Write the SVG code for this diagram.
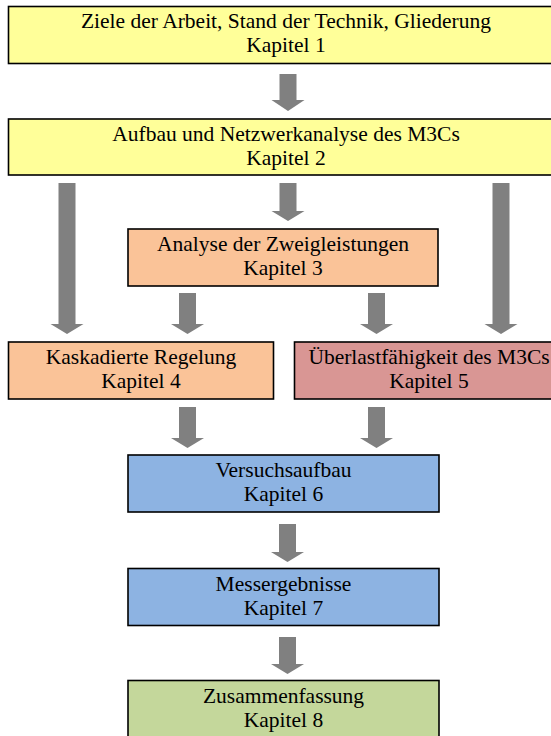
<svg xmlns="http://www.w3.org/2000/svg" width="551" height="736" viewBox="0 0 551 736">
  <style>
    .box { stroke: #000; stroke-width: 1.6; }
    .yellow { fill: #FFFF99; }
    .orange { fill: #FAC398; }
    .red { fill: #D99694; }
    .blue { fill: #8DB3E2; }
    .green { fill: #C4D79B; }
    .label { font-family: "Liberation Serif", "Times New Roman", serif; font-size: 21.5px; fill: #000; text-anchor: middle; }
    .arrow { fill: #808080; stroke: none; }
  </style>
  <rect width="551" height="736" fill="#fff"/>

  <!-- block arrows between chapters -->
  <g id="connectors">
    <polygon class="arrow" points="279.5,74 296.5,74 296.5,100 304.5,100 288,111 271.5,100 279.5,100"/>
    <polygon class="arrow" points="58.5,183 75.5,183 75.5,324 83.5,324 67,334 50.5,324 58.5,324"/>
    <polygon class="arrow" points="279.5,183 296.5,183 296.5,211 304.5,211 288,221 271.5,211 279.5,211"/>
    <polygon class="arrow" points="492.5,183 509.5,183 509.5,324 517.5,324 501,334 484.5,324 492.5,324"/>
    <polygon class="arrow" points="179,293 196,293 196,324 204,324 187.5,334 171,324 179,324"/>
    <polygon class="arrow" points="368,293 385,293 385,324 393,324 376.5,334 360,324 368,324"/>
    <polygon class="arrow" points="179,407 196,407 196,438 204,438 187.5,448 171,438 179,438"/>
    <polygon class="arrow" points="368,407 385,407 385,438 393,438 376.5,448 360,438 368,438"/>
    <polygon class="arrow" points="279,524 296,524 296,552 304,552 287.5,562 271,552 279,552"/>
    <polygon class="arrow" points="279,637 296,637 296,664 304,664 287.5,674 271,664 279,664"/>
  </g>

  <g id="kapitel1">
    <rect class="box yellow" x="8.5" y="6.5" width="560" height="57"/>
    <text class="label" x="286" y="28">Ziele der Arbeit, Stand der Technik, Gliederung</text>
    <text class="label" x="286" y="52">Kapitel 1</text>
  </g>

  <g id="kapitel2">
    <rect class="box yellow" x="8.5" y="119" width="560" height="56"/>
    <text class="label" x="286" y="141">Aufbau und Netzwerkanalyse des M3Cs</text>
    <text class="label" x="286" y="165">Kapitel 2</text>
  </g>

  <g id="kapitel3">
    <rect class="box orange" x="128" y="229" width="310" height="57"/>
    <text class="label" x="283" y="251">Analyse der Zweigleistungen</text>
    <text class="label" x="283" y="275">Kapitel 3</text>
  </g>

  <g id="kapitel4">
    <rect class="box orange" x="8.5" y="342" width="265" height="57"/>
    <text class="label" x="141" y="364">Kaskadierte Regelung</text>
    <text class="label" x="141" y="388">Kapitel 4</text>
  </g>

  <g id="kapitel5">
    <rect class="box red" x="294.5" y="342" width="270" height="57"/>
    <text class="label" x="429" y="364">Überlastfähigkeit des M3Cs</text>
    <text class="label" x="429" y="388">Kapitel 5</text>
  </g>

  <g id="kapitel6">
    <rect class="box blue" x="128" y="455" width="311" height="57"/>
    <text class="label" x="283.5" y="477">Versuchsaufbau</text>
    <text class="label" x="283.5" y="501">Kapitel 6</text>
  </g>

  <g id="kapitel7">
    <rect class="box blue" x="128" y="568.5" width="311" height="57"/>
    <text class="label" x="283.5" y="591">Messergebnisse</text>
    <text class="label" x="283.5" y="615">Kapitel 7</text>
  </g>

  <g id="kapitel8">
    <rect class="box green" x="128" y="680.5" width="311" height="60"/>
    <text class="label" x="283.5" y="703">Zusammenfassung</text>
    <text class="label" x="283.5" y="727">Kapitel 8</text>
  </g>
</svg>
